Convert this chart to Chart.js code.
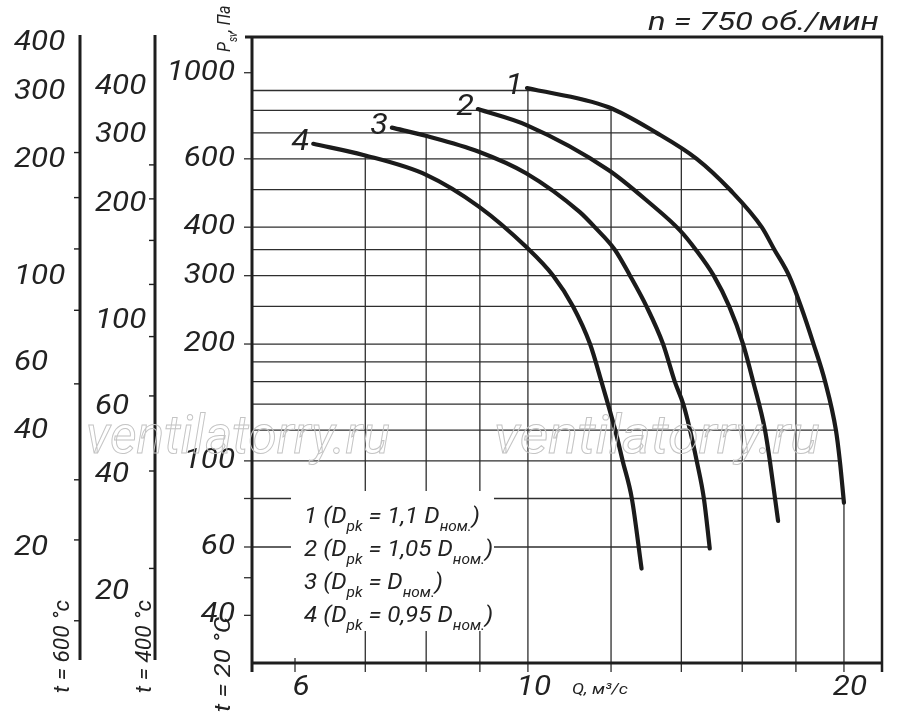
<!DOCTYPE html>
<html>
<head>
<meta charset="utf-8">
<script src="https://cdn.jsdelivr.net/npm/chart.js@4.4.1/dist/chart.umd.min.js"></script>
<style>
  html, body { margin: 0; padding: 0; background: #fff; }
  canvas { display: block; }
</style>
</head>
<body>
<canvas id="chart" width="900" height="714"></canvas>
<script>
// values: Q in m3/s, P_sv in Pa (t = 20 C)
const curveNames = ['1', '2', '3', '4'];
const legendCoef = ['1,1 ', '1,05 ', '', '0,95 '];

const q1 = [9.98, 11.92, 13.26, 14.48, 15.57, 16.7, 17.17, 17.73, 18.2, 18.71, 19.19, 19.65, 19.82, 20.0];
const p1 = [913, 816, 700, 600, 500, 400, 350, 300, 250, 200, 160, 120, 100, 78];

const q2 = [8.96, 9.97, 11.94, 13.07, 13.95, 14.45, 15.03, 15.55, 16.03, 16.39, 16.82, 17.0, 17.31];
const p2 = [806, 733, 561, 461, 393, 350, 300, 250, 200, 160, 120, 100, 70];

const q3 = [7.42, 8.01, 8.98, 9.96, 11.2, 11.58, 12.1, 12.51, 12.97, 13.45, 13.8, 14.06, 14.27, 14.48, 14.71, 14.9];
const p3 = [722, 687, 626, 551, 438, 400, 350, 300, 250, 200, 160, 140, 120, 100, 80, 59.5];

const q4 = [6.245, 6.97, 8.01, 8.98, 9.96, 10.57, 11.04, 11.46, 11.75, 12.11, 12.31, 12.56, 12.83];
const p4 = [656, 614, 545, 452, 356, 300, 250, 200, 160, 120, 100, 80, 52.8];

const curves = [[q1, p1], [q2, p2], [q3, p3], [q4, p4]];

// grid and axis marks
const pGrid = [900, 800, 700, 600, 500, 400, 350, 300, 250, 200, 180, 160, 140, 120, 100, 80, 60];
const qGrid = [7, 8, 9, 10, 12, 14, 16, 18, 20];
const pTicks = [1000, 600, 400, 300, 200, 100, 80, 60, 50, 40];
const pLabels = [1000, 600, 400, 300, 200, 100, 60, 40];
const qLabels = [6, 10, 20];

// side scales for hot gas
const t600Labels = [400, 300, 200, 100, 60, 40, 20];
const t600Ticks = [209, 160, 118, 82, 53, 30, 21, 13];
const t400Labels = [400, 300, 200, 100, 60, 40, 20];
const t400Ticks = [252, 206, 161, 124, 91, 64, 41, 23];
const k600 = 873 / 293, k400 = 673 / 293;

const INK = '#222';
const FONT = 'Roboto, "Open Sans", sans-serif';

// log-log interpolation along a polyline
function interp(xs, ys, v) {
  for (let i = 0; i < xs.length - 1; i++) {
    const a = xs[i], b = xs[i + 1];
    if ((v - a) * (v - b) <= 0) {
      const t = (Math.log(v) - Math.log(a)) / (Math.log(b) - Math.log(a));
      return Math.exp(Math.log(ys[i]) + t * (Math.log(ys[i + 1]) - Math.log(ys[i])));
    }
  }
  return null;
}
function qEdge(p) {
  let best = null;
  curves.forEach(c => {
    const q = interp(c[1].slice().reverse(), c[0].slice().reverse(), p);
    if (q !== null && (best === null || q > best)) best = q;
  });
  return best;
}
function pEdge(q) {
  let best = null;
  curves.forEach(c => {
    const p = interp(c[0], c[1], q);
    if (p !== null && (best === null || p > best)) best = p;
  });
  return best;
}

function num(ctx, txt, x, y, align) {
  ctx.save();
  ctx.translate(x, y);
  ctx.scale(1.12, 1);
  ctx.textAlign = align;
  ctx.fillText(txt, 0, 0);
  ctx.restore();
}
function fitText(ctx, txt, x, y, w) {
  const m = ctx.measureText(txt).width;
  ctx.save();
  ctx.translate(x, y);
  ctx.scale(w / m, 1);
  ctx.textAlign = 'left';
  ctx.fillText(txt, 0, 0);
  ctx.restore();
}
// parts: [text, isSub]
function richText(ctx, parts, x, y, size, sx) {
  ctx.save();
  ctx.translate(x, y);
  ctx.scale(sx, 1);
  ctx.textAlign = 'left';
  ctx.textBaseline = 'alphabetic';
  let cx = 0;
  parts.forEach(pt => {
    ctx.font = 'italic ' + (pt[1] ? Math.round(size * 0.62) : size) + 'px ' + FONT;
    ctx.fillText(pt[0], cx, pt[1] ? size * 0.38 : 0);
    cx += ctx.measureText(pt[0]).width;
  });
  ctx.restore();
}
function line(ctx, x1, y1, x2, y2) {
  ctx.beginPath();
  ctx.moveTo(x1, y1);
  ctx.lineTo(x2, y2);
  ctx.stroke();
}

const nomogram = {
  id: 'nomogram',
  beforeDatasetsDraw(chart) {
    const ctx = chart.ctx, a = chart.chartArea;
    const xs = chart.scales.x, ys = chart.scales.y;
    ctx.save();
    ctx.strokeStyle = '#2e2e2e';
    ctx.lineWidth = 1.3;

    // grid, cut off at the outer curve
    pGrid.forEach(p => {
      const q = qEdge(p);
      if (q === null) return;
      const y = ys.getPixelForValue(p);
      line(ctx, a.left, y, xs.getPixelForValue(q), y);
    });
    qGrid.forEach(q => {
      const p = pEdge(q);
      if (p === null) return;
      const x = xs.getPixelForValue(q);
      line(ctx, x, a.bottom + 9, x, ys.getPixelForValue(p));
    });
    pTicks.forEach(p => {
      const y = ys.getPixelForValue(p);
      line(ctx, a.left - 8, y, a.left, y);
    });
    const x6 = xs.getPixelForValue(6);
    line(ctx, x6, a.bottom - 5, x6, a.bottom + 9);

    // legend box
    ctx.fillStyle = '#fff';
    ctx.fillRect(a.left + 39, a.bottom - 172, 203, 140);
    ctx.fillStyle = INK;
    const rows = [140, 107, 74, 41];
    curveNames.forEach((n, i) => {
      richText(ctx, [[n + ' (D', 0], ['pk', 1], [' = ' + legendCoef[i] + 'D', 0], ['ном.', 1], [')', 0]],
        a.left + 52, a.bottom - rows[i], 22, 1.1);
    });

    // frame
    ctx.strokeStyle = '#1e1e1e';
    ctx.lineWidth = 3;
    line(ctx, a.left, a.top, a.left, a.bottom + 9);
    line(ctx, a.left - 7, a.top, a.right + 1, a.top);
    line(ctx, a.left, a.bottom, a.right, a.bottom);
    ctx.lineWidth = 2.5;
    line(ctx, a.right, a.top - 1, a.right, a.bottom + 9);

    // side scales
    const axes = [[80, t600Ticks, t600Labels, k600, 14], [155, t400Ticks, t400Labels, k400, 95]];
    ctx.font = 'italic 28px ' + FONT;
    ctx.textBaseline = 'middle';
    axes.forEach(ax => {
      ctx.lineWidth = 3;
      line(ctx, ax[0], a.top - 2, ax[0], a.bottom - 3);
      ctx.lineWidth = 1.4;
      ax[1].forEach(v => {
        const y = ys.getPixelForValue(v * ax[3]);
        line(ctx, ax[0] - 6, y, ax[0], y);
      });
      ax[2].forEach(v => num(ctx, String(v), ax[4], ys.getPixelForValue(v * ax[3]), 'left'));
    });

    // main axis labels
    pLabels.forEach(p => num(ctx, String(p), a.left - 17, ys.getPixelForValue(p), 'right'));
    ctx.textBaseline = 'alphabetic';
    qLabels.forEach(q => num(ctx, String(q), xs.getPixelForValue(q) + 6, a.bottom + 32, 'center'));

    ctx.font = 'italic 15px ' + FONT;
    fitText(ctx, 'Q, м³/с', 572, a.bottom + 31, 56);

    ctx.font = 'italic 26px ' + FONT;
    fitText(ctx, 'n = 750 об./мин', 648, 30, 231);

    // rotated captions
    const rot = [['t = 600 °c', 69, 693, 93], ['t = 400 °c', 151, 693, 93], ['t = 20 °C', 230, 712, 95]];
    ctx.font = 'italic 22px ' + FONT;
    rot.forEach(r => {
      ctx.save();
      ctx.translate(r[1], r[2]);
      ctx.rotate(-Math.PI / 2);
      fitText(ctx, r[0], 0, 0, r[3]);
      ctx.restore();
    });
    ctx.save();
    ctx.translate(230, 52);
    ctx.rotate(-Math.PI / 2);
    richText(ctx, [['P', 0], ['sv', 1], [', Па', 0]], 0, 0, 19, 0.85);
    ctx.restore();
    ctx.restore();
  },
  afterDatasetsDraw(chart) {
    const ctx = chart.ctx;
    const xs = chart.scales.x, ys = chart.scales.y;
    ctx.save();
    ctx.fillStyle = INK;
    ctx.font = 'italic 29px ' + FONT;
    ctx.textBaseline = 'alphabetic';
    curves.forEach((c, i) => {
      num(ctx, curveNames[i], xs.getPixelForValue(c[0][0]) - 4, ys.getPixelForValue(c[1][0]) + 6, 'right');
    });
    // watermark
    ctx.strokeStyle = '#c4c4c4';
    ctx.lineWidth = 1;
    ctx.font = 'italic 54px ' + FONT;
    [[86, 304], [494, 326]].forEach(w => {
      const m = ctx.measureText('ventilatorry.ru').width;
      ctx.save();
      ctx.translate(w[0], 453);
      ctx.scale(w[1] / m, 1);
      ctx.strokeText('ventilatorry.ru', 0, 0);
      ctx.restore();
    });
    ctx.restore();
  }
};

new Chart(document.getElementById('chart'), {
  type: 'line',
  data: {
    datasets: curves.map((c, i) => ({
      label: curveNames[i],
      data: c[0].map((q, j) => ({ x: q, y: c[1][j] })),
      borderColor: '#1b1b1b',
      borderWidth: 4.2,
      borderCapStyle: 'round',
      pointRadius: 0,
      cubicInterpolationMode: 'monotone',
      fill: false
    }))
  },
  options: {
    responsive: false,
    animation: false,
    devicePixelRatio: 1,
    events: [],
    layout: { padding: { left: 252, right: 18, top: 37, bottom: 51 } },
    scales: {
      x: { type: 'logarithmic', min: 5.46, max: 21.74, display: false },
      y: { type: 'logarithmic', min: 30.15, max: 1236, display: false }
    },
    plugins: { legend: { display: false }, tooltip: { enabled: false } }
  },
  plugins: [nomogram]
});
</script>
</body>
</html>
